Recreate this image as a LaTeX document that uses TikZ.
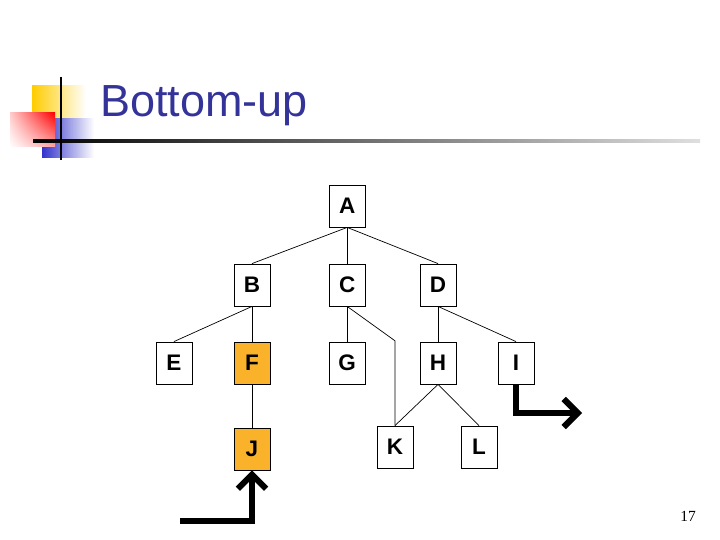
\documentclass[tikz,border=0pt]{standalone}
\usepackage{fontspec}
\setmainfont{Liberation Sans}
\newfontfamily\numfont{Liberation Serif}
\usetikzlibrary{arrows.meta, shadings}
\definecolor{titleblue}{RGB}{51,51,153}
\definecolor{visited}{RGB}{250,178,42}
\definecolor{decoyellow}{RGB}{255,204,0}
\definecolor{decored}{RGB}{255,0,0}
\definecolor{decoblue}{RGB}{51,51,204}

\tikzset{
  box/.style={draw, line width=0.6pt, minimum width=0.9cm, minimum height=1.05cm,
    inner sep=0pt, font=\fontsize{16}{19}\selectfont\bfseries},
  done/.style={box, fill=visited},
  edge/.style={line width=0.5pt},
  walk/.style={line width=4.3pt, -{Straight Barb[length=10pt,width=20pt]}}
}

\begin{document}
\begin{tikzpicture}
  \useasboundingbox (0,0) rectangle (18,13.5);

  % slide decoration
  \shade[left color=decoyellow, middle color=decoyellow, right color=white] (0.8,11.35) rectangle (2.15,10.525);
  \shade[left color=decoblue, middle color=decoblue, right color=white] (1.05,10.525) rectangle (2.35,9.55);
  \shade[upper right=decored, upper left=decored!20, lower right=decored!35, lower left=white]
    (0.25,10.675) rectangle (1.375,9.825);
  \shade[left color=black, right color=gray!25] (0.825,9.94) rectangle (17.5,10.01);
  \draw[line width=2pt] (1.525,11.575) -- (1.525,9.5);
  \node[anchor=base west, text=titleblue, font=\fontsize{32}{38}\selectfont, inner sep=0pt]
    (title) at (2.5,10.575) {Bottom-up};

  % tree
  \node[box] (A) at (8.68, 8.35) {A};
  \node[box] (B) at (6.3, 6.375) {B};
  \node[box] (C) at (8.68, 6.375) {C};
  \node[box] (D) at (10.95, 6.375) {D};
  \node[box] (E) at (4.35, 4.425) {E};
  \node[done] (F) at (6.3, 4.425) {F};
  \node[box] (G) at (8.68, 4.425) {G};
  \node[box] (H) at (10.95, 4.425) {H};
  \node[box] (I) at (12.9, 4.425) {I};
  \node[done] (J) at (6.3, 2.275) {J};
  \node[box] (K) at (9.875, 2.325) {K};
  \node[box] (L) at (11.975, 2.325) {L};
  \coordinate (ck) at (9.875, 4.98);

  \draw[edge] (A.south) -- (B.north);
  \draw[edge] (A.south) -- (C.north);
  \draw[edge] (A.south) -- (D.north);
  \draw[edge] (B.south) -- (E.north);
  \draw[edge] (B.south) -- (F.north);
  \draw[edge] (C.south) -- (G.north);
  \draw[edge] (C.south) -- (ck) -- (K.north);
  \draw[edge] (D.south) -- (H.north);
  \draw[edge] (D.south) -- (I.north);
  \draw[edge] (F.south) -- (J.north);
  \draw[edge] (H.south) -- (K.north);
  \draw[edge] (H.south) -- (L.north);

  % traversal arrows
  \coordinate (jin) at (4.5, 0.475);
  \coordinate (iout) at (14.55, 3.175);
  \draw[walk] (jin) -| (J.south);
  \draw[walk] (I.south) |- (iout);

  \node[font=\numfont\fontsize{11}{13}\selectfont] (page) at (17.2, 0.6) {17};
\end{tikzpicture}
\end{document}
